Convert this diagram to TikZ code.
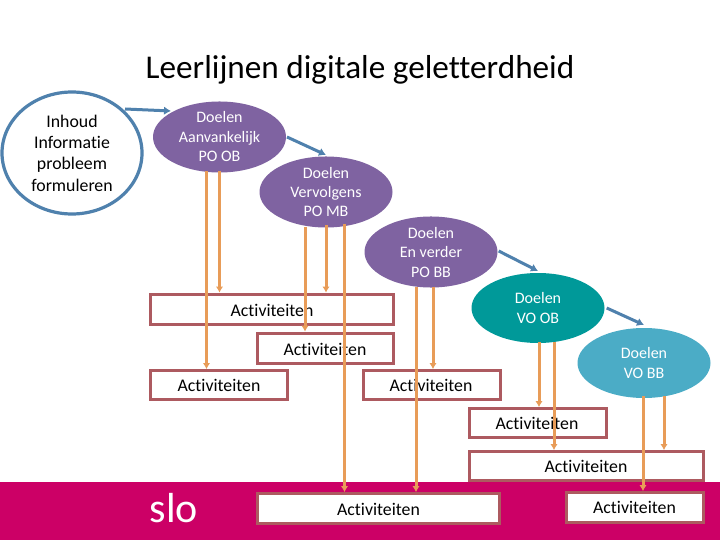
\documentclass[tikz,border=0pt]{standalone}
\usepackage{fontspec}
\setmainfont{Carlito}[Ligatures=NoCommon]
\usetikzlibrary{shapes.geometric,arrows.meta}
\definecolor{goalpurple}{HTML}{7F63A1}
\definecolor{goalteal}{HTML}{009999}
\definecolor{goalblue}{HTML}{4BACC6}
\definecolor{linkblue}{HTML}{4F81AD}
\definecolor{boxred}{HTML}{AD5A60}
\definecolor{orangeline}{HTML}{E89C58}
\definecolor{band}{HTML}{CC0066}
\tikzset{
  goal/.style={ellipse,minimum width=133pt,minimum height=70pt,inner sep=0pt,text=white,align=center,font=\fontsize{16}{19.5}\selectfont,fill=#1},
  actbox/.style={draw=boxred,line width=3pt,fill=white,inner sep=0pt},
  acttext/.style={font=\fontsize{17.8}{20}\selectfont,text=black},
  start/.style={ellipse,draw=linkblue,line width=3.2pt,fill=white,minimum width=140pt,minimum height=122pt,inner sep=0pt,align=center,font=\fontsize{17.8}{21.3}\selectfont},
  bluearrow/.style={draw=linkblue,line width=3pt,-{Latex[length=7pt,width=8.5pt]}},
  orangearrow/.style={draw=orangeline,line width=3pt,-{Latex[length=6pt,width=7.5pt]}},
}
\begin{document}
\begin{tikzpicture}[x=1pt,y=-1pt]
\useasboundingbox (0,0) rectangle (720,540);
\fill[white] (0,0) rectangle (720,540);
\fill[band] (0,482) rectangle (720,540);
\node[font=\fontsize{33.2}{38}\selectfont] (title) at (360,70) {Leerlijnen digitale geletterdheid};
\node[font=\fontsize{42}{44}\selectfont,text=white] (logo) at (174,508) {slo};
\node[start] (start) at (72,153) {Inhoud\\Informatie\\probleem\\formuleren};
\node[goal=goalpurple] (d1) at (219.5,137) {Doelen\\Aanvankelijk\\PO OB};
\node[goal=goalpurple] (d2) at (326,192) {Doelen\\Vervolgens\\PO MB};
\node[goal=goalpurple] (d3) at (431,252) {Doelen\\En verder\\PO BB};
\node[goal=goalteal] (d4) at (538,308) {Doelen\\VO OB};
\node[goal=goalblue] (d5) at (644,363) {Doelen\\VO BB};
\node[actbox,minimum width=243pt,minimum height=30pt] (a1) at (272,309) {};
\node[acttext] (a1t) at (272,310.5) {Activiteiten};
\node[actbox,minimum width=136pt,minimum height=30pt] (a2) at (325.5,348) {};
\node[acttext] (a2t) at (325,349) {Activiteiten};
\node[actbox,minimum width=137pt,minimum height=29pt] (a3) at (219,385) {};
\node[acttext] (a3t) at (219,385.5) {Activiteiten};
\node[actbox,minimum width=137pt,minimum height=29pt] (a4) at (432,385) {};
\node[acttext] (a4t) at (431,385.5) {Activiteiten};
\node[actbox,minimum width=137pt,minimum height=29pt] (a5) at (538,423) {};
\node[acttext] (a5t) at (537,423.5) {Activiteiten};
\node[actbox,minimum width=234pt,minimum height=29pt] (a6) at (586.5,466) {};
\node[acttext] (a6t) at (586,466.5) {Activiteiten};
\node[actbox,minimum width=242pt,minimum height=30pt] (a7) at (378.5,508.5) {};
\node[acttext] (a7t) at (378.5,509.5) {Activiteiten};
\node[actbox,minimum width=137pt,minimum height=30pt] (a8) at (635,507.5) {};
\node[acttext] (a8t) at (634.5,507.5) {Activiteiten};
% blue links
\coordinate (b1s) at (125,109); \coordinate (b1e) at (171,111);
\coordinate (b2s) at (287,137); \coordinate (b2e) at (326,155);
\coordinate (b3e) at (538,271);
\coordinate (b4e) at (644,325);
\draw[bluearrow] (b1s) -- (b1e);
\draw[bluearrow] (b2s) -- (b2e);
\draw[bluearrow] (d3.east) ++(1,-1) -- (b3e);
\draw[bluearrow] (d4.east) ++(2,0) -- (b4e);
% orange links
\draw[orangearrow] ([xshift=-13pt,yshift=2pt]d1.south) -- ([xshift=-13pt]d1.south |- a3.north);
\draw[orangearrow] ([yshift=2pt]d1.south) -- (d1.south |- a1.north);
\draw[orangearrow] ([xshift=-21pt,yshift=1pt]d2.south) -- ([xshift=-21pt]d2.south |- a2.north);
\draw[orangearrow] ([yshift=3pt]d2.south) -- (d2.south |- a1.north);
\draw[orangearrow] ([xshift=18.5pt,yshift=4pt]d2.south) -- ([xshift=18.5pt]d2.south |- a7.north);
\draw[orangearrow] ([xshift=-15pt,yshift=1pt]d3.south) -- ([xshift=-15pt]d3.south |- a7.north);
\draw[orangearrow] ([xshift=2pt,yshift=1pt]d3.south) -- ([xshift=2pt]d3.south |- a4.north);
\draw[orangearrow] ([xshift=1pt,yshift=1pt]d4.south) -- ([xshift=1pt]d4.south |- a5.north);
\draw[orangearrow] ([xshift=16pt,yshift=1pt]d4.south) -- ([xshift=16pt]d4.south |- a6.north);
\draw[orangearrow] ([xshift=-1pt,yshift=2pt]d5.south) -- ([xshift=-1pt]d5.south |- a8.north);
\draw[orangearrow] ([xshift=20pt,yshift=2pt]d5.south) -- ([xshift=20pt]d5.south |- a6.north);
\end{tikzpicture}
\end{document}
